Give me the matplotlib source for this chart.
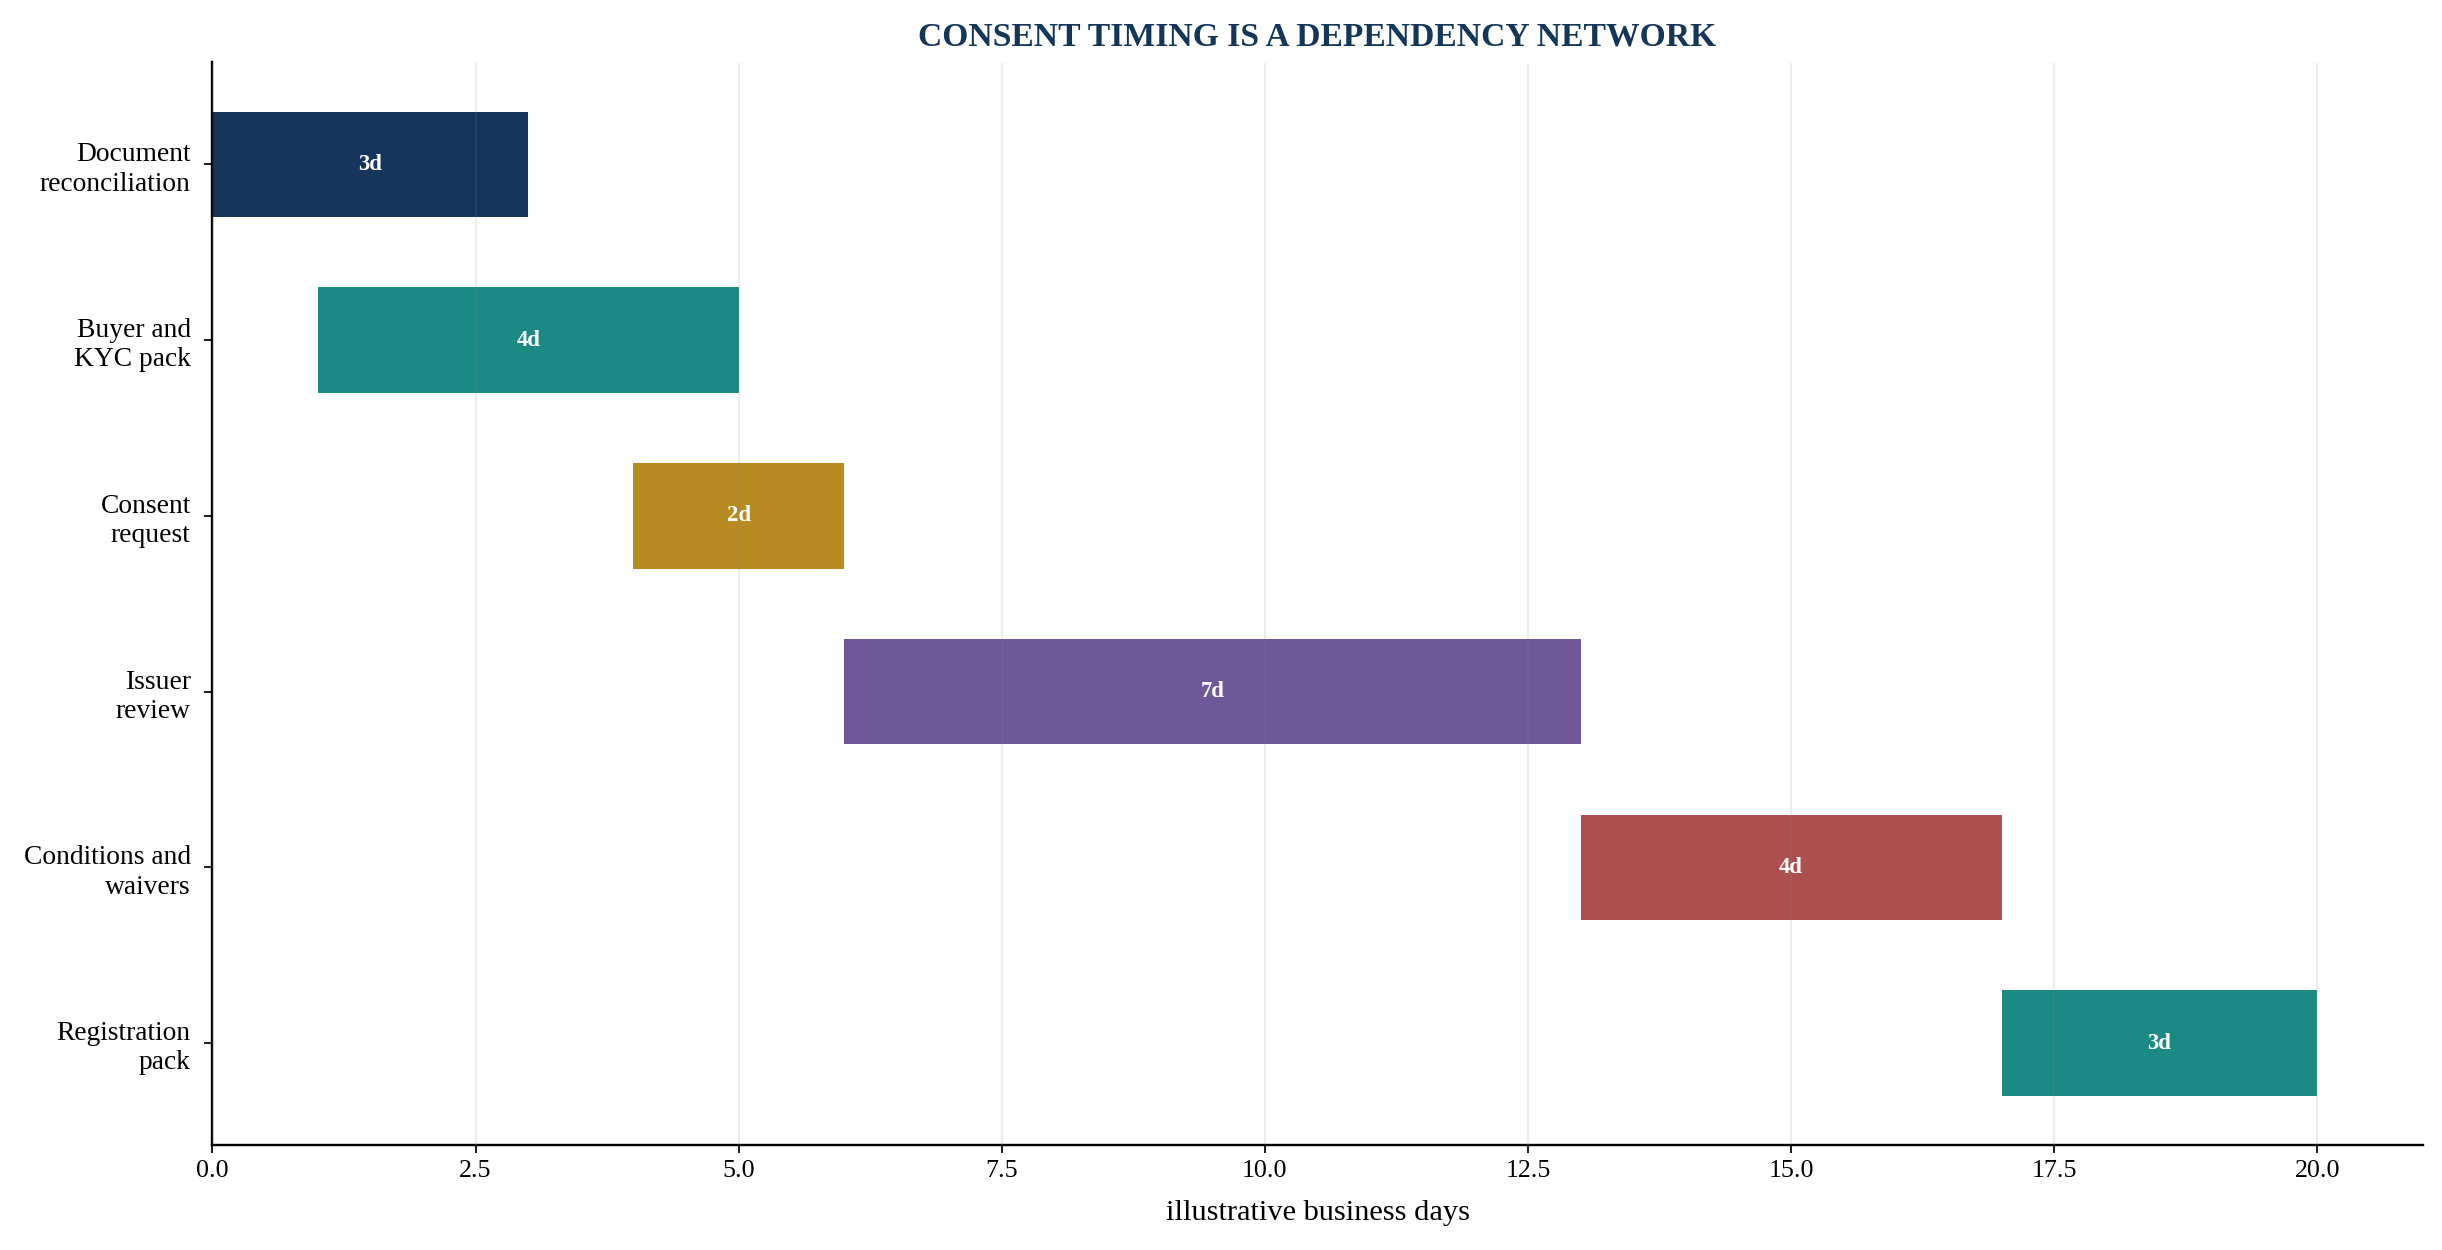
import matplotlib
matplotlib.use("Agg")
from matplotlib import pyplot as plt

plt.rcParams['font.family'] = ['Liberation Serif', 'DejaVu Serif']

# task data
tasks = ['Document\nreconciliation', 'Buyer and\nKYC pack', 'Consent\nrequest',
         'Issuer\nreview', 'Conditions and\nwaivers', 'Registration\npack']
starts = [0, 1, 4, 6, 13, 17]
durations = [3, 4, 2, 7, 4, 3]
colors = ['#15355a', '#1c8a84', '#b88a22', '#6f5898', '#ae4f4f', '#1c8a84']

fig, ax = plt.subplots(figsize=(15.63, 8.0), dpi=156.25)
plt.subplots_adjust(left=0.087, right=0.992, top=0.95, bottom=0.084)

ypos = list(range(len(tasks)))
ax.barh(ypos, durations, left=starts, height=0.6, color=colors, zorder=1)
for y, s, d in zip(ypos, starts, durations):
    ax.text(s + d / 2, y, f'{d}d', ha='center', va='center', color='white',
            fontsize=10.5, fontweight='bold', zorder=3)

ax.set_yticks(ypos)
ax.set_yticklabels(tasks, fontsize=12.7, linespacing=1.22)
ax.invert_yaxis()
ax.set_xlim(0, 21)
ax.tick_params(axis='x', labelsize=12)
ax.tick_params(axis='y', pad=6.5)

ax.grid(axis='x', color='#888888', alpha=0.15, linewidth=1, zorder=2)
ax.set_axisbelow(False)
for sp in ['top', 'right']:
    ax.spines[sp].set_visible(False)
for sp in ['left', 'bottom']:
    ax.spines[sp].set_linewidth(1.1)
    ax.spines[sp].set_color('black')

ax.set_xlabel('illustrative business days', fontsize=14, labelpad=8)
ax.set_title('CONSENT TIMING IS A DEPENDENCY NETWORK', fontsize=15.5,
             fontweight='bold', color='#14365a', pad=8)

fig.savefig('out.png', dpi=156.25)
